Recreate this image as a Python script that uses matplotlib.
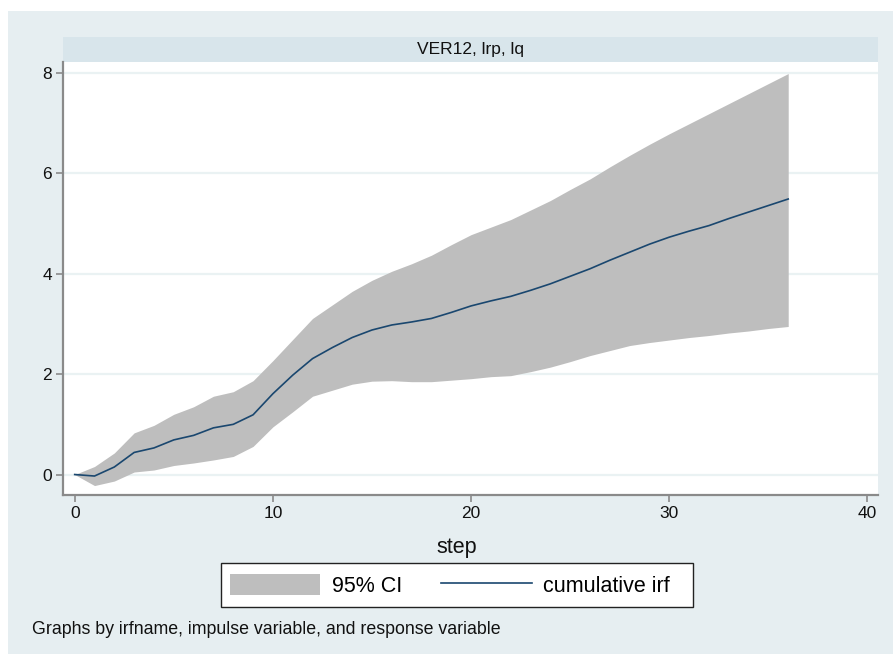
import matplotlib.pyplot as plt
from matplotlib.patches import Rectangle

plt.rcParams["font.family"] = ["Liberation Sans", "DejaVu Sans"]

# cumulative irf and 95% CI, steps 0..36
steps = list(range(37))
irf = [0, -0.03, 0.15, 0.44, 0.53, 0.69, 0.78, 0.93, 1.00, 1.19, 1.61, 1.98, 2.31,
       2.53, 2.73, 2.88, 2.98, 3.04, 3.11, 3.23, 3.36, 3.46, 3.55, 3.67, 3.80,
       3.95, 4.10, 4.27, 4.43, 4.59, 4.73, 4.85, 4.96, 5.10, 5.23, 5.36, 5.49]
upper = [0, 0.16, 0.43, 0.83, 0.98, 1.20, 1.35, 1.56, 1.65, 1.87, 2.27, 2.69, 3.11,
         3.38, 3.65, 3.87, 4.05, 4.20, 4.37, 4.58, 4.78, 4.93, 5.08, 5.27, 5.46,
         5.68, 5.89, 6.13, 6.36, 6.58, 6.79, 6.99, 7.19, 7.39, 7.59, 7.79, 7.99]
lower = [0, -0.22, -0.13, 0.05, 0.09, 0.18, 0.23, 0.29, 0.36, 0.56, 0.95, 1.25, 1.56,
         1.68, 1.80, 1.86, 1.87, 1.85, 1.85, 1.88, 1.91, 1.95, 1.97, 2.05, 2.14,
         2.25, 2.37, 2.47, 2.57, 2.63, 2.68, 2.73, 2.77, 2.82, 2.86, 2.91, 2.95]
xticks = [0, 10, 20, 30, 40]
yticks = [0, 2, 4, 6, 8]

W, H = 893, 654
bg = "#e6eef1"
strip = "#d8e5eb"
grid = "#eaf2f3"
axis_c = "#8a8a8a"
txt = "#111111"

fig = plt.figure(figsize=(W / 100, H / 100), dpi=100, facecolor="white")
fig.patches.append(Rectangle((8 / W, 0), 1 - 8 / W, 1 - 11 / H, transform=fig.transFigure,
                             facecolor=bg, edgecolor="none", zorder=-2))
# by-strip on top of the plot region
fig.patches.append(Rectangle((63 / W, 1 - 62 / H), (878 - 63) / W, 25 / H,
                             transform=fig.transFigure, facecolor=strip,
                             edgecolor="none", zorder=-1))
fig.text((63 + 878) / 2 / W, 1 - 49.5 / H, "VER12, lrp, lq", ha="center", va="center",
         fontsize=12.5, color=txt)

ax = fig.add_axes([63 / W, 1 - 495 / H, (878 - 63) / W, (495 - 62) / H])
ax.set_facecolor("white")
ci = ax.fill_between(steps, lower, upper, color="#bebebe", linewidth=0, label="95% CI")
ln, = ax.plot(steps, irf, color="#1a476f", linewidth=1.2, label="cumulative irf")

ax.set_xlim(-0.59, 40.53)
ax.set_ylim(-0.408, 8.22)
ax.set_xticks(xticks)
ax.set_yticks(yticks)
ax.yaxis.grid(True, color=grid, linewidth=1.6)
ax.set_axisbelow(True)
for s in ["top", "right"]:
    ax.spines[s].set_visible(False)
for s in ["left", "bottom"]:
    ax.spines[s].set_color(axis_c)
    ax.spines[s].set_linewidth(1.6)
ax.tick_params(axis="both", length=5, width=1.2, color=axis_c, labelsize=12.5,
               labelcolor=txt, pad=3)

fig.text(457 / W, 1 - 547 / H, "step", ha="center", va="center", fontsize=15.5,
         color=txt)

# legend box drawn separately so its size follows the reference
fig.patches.append(Rectangle((221 / W, 1 - 607 / H), (693 - 221) / W, 44 / H,
                             transform=fig.transFigure, facecolor="white",
                             edgecolor="#222222", linewidth=1.0, zorder=1))
leg = fig.legend([ci, ln], ["95% CI", "cumulative irf"], ncol=2, loc="center",
                 bbox_to_anchor=(450 / W, 1 - 585.5 / H), fontsize=15.5,
                 frameon=False, handlelength=4.2, handleheight=1.1,
                 handletextpad=0.55, columnspacing=1.8, borderpad=0.4,
                 borderaxespad=0)
leg.set_zorder(2)

fig.text(32 / W, 1 - 629 / H, "Graphs by irfname, impulse variable, and response variable",
         ha="left", va="center", fontsize=12.8, color=txt)

fig.savefig("out.png", dpi=100, facecolor="white")
